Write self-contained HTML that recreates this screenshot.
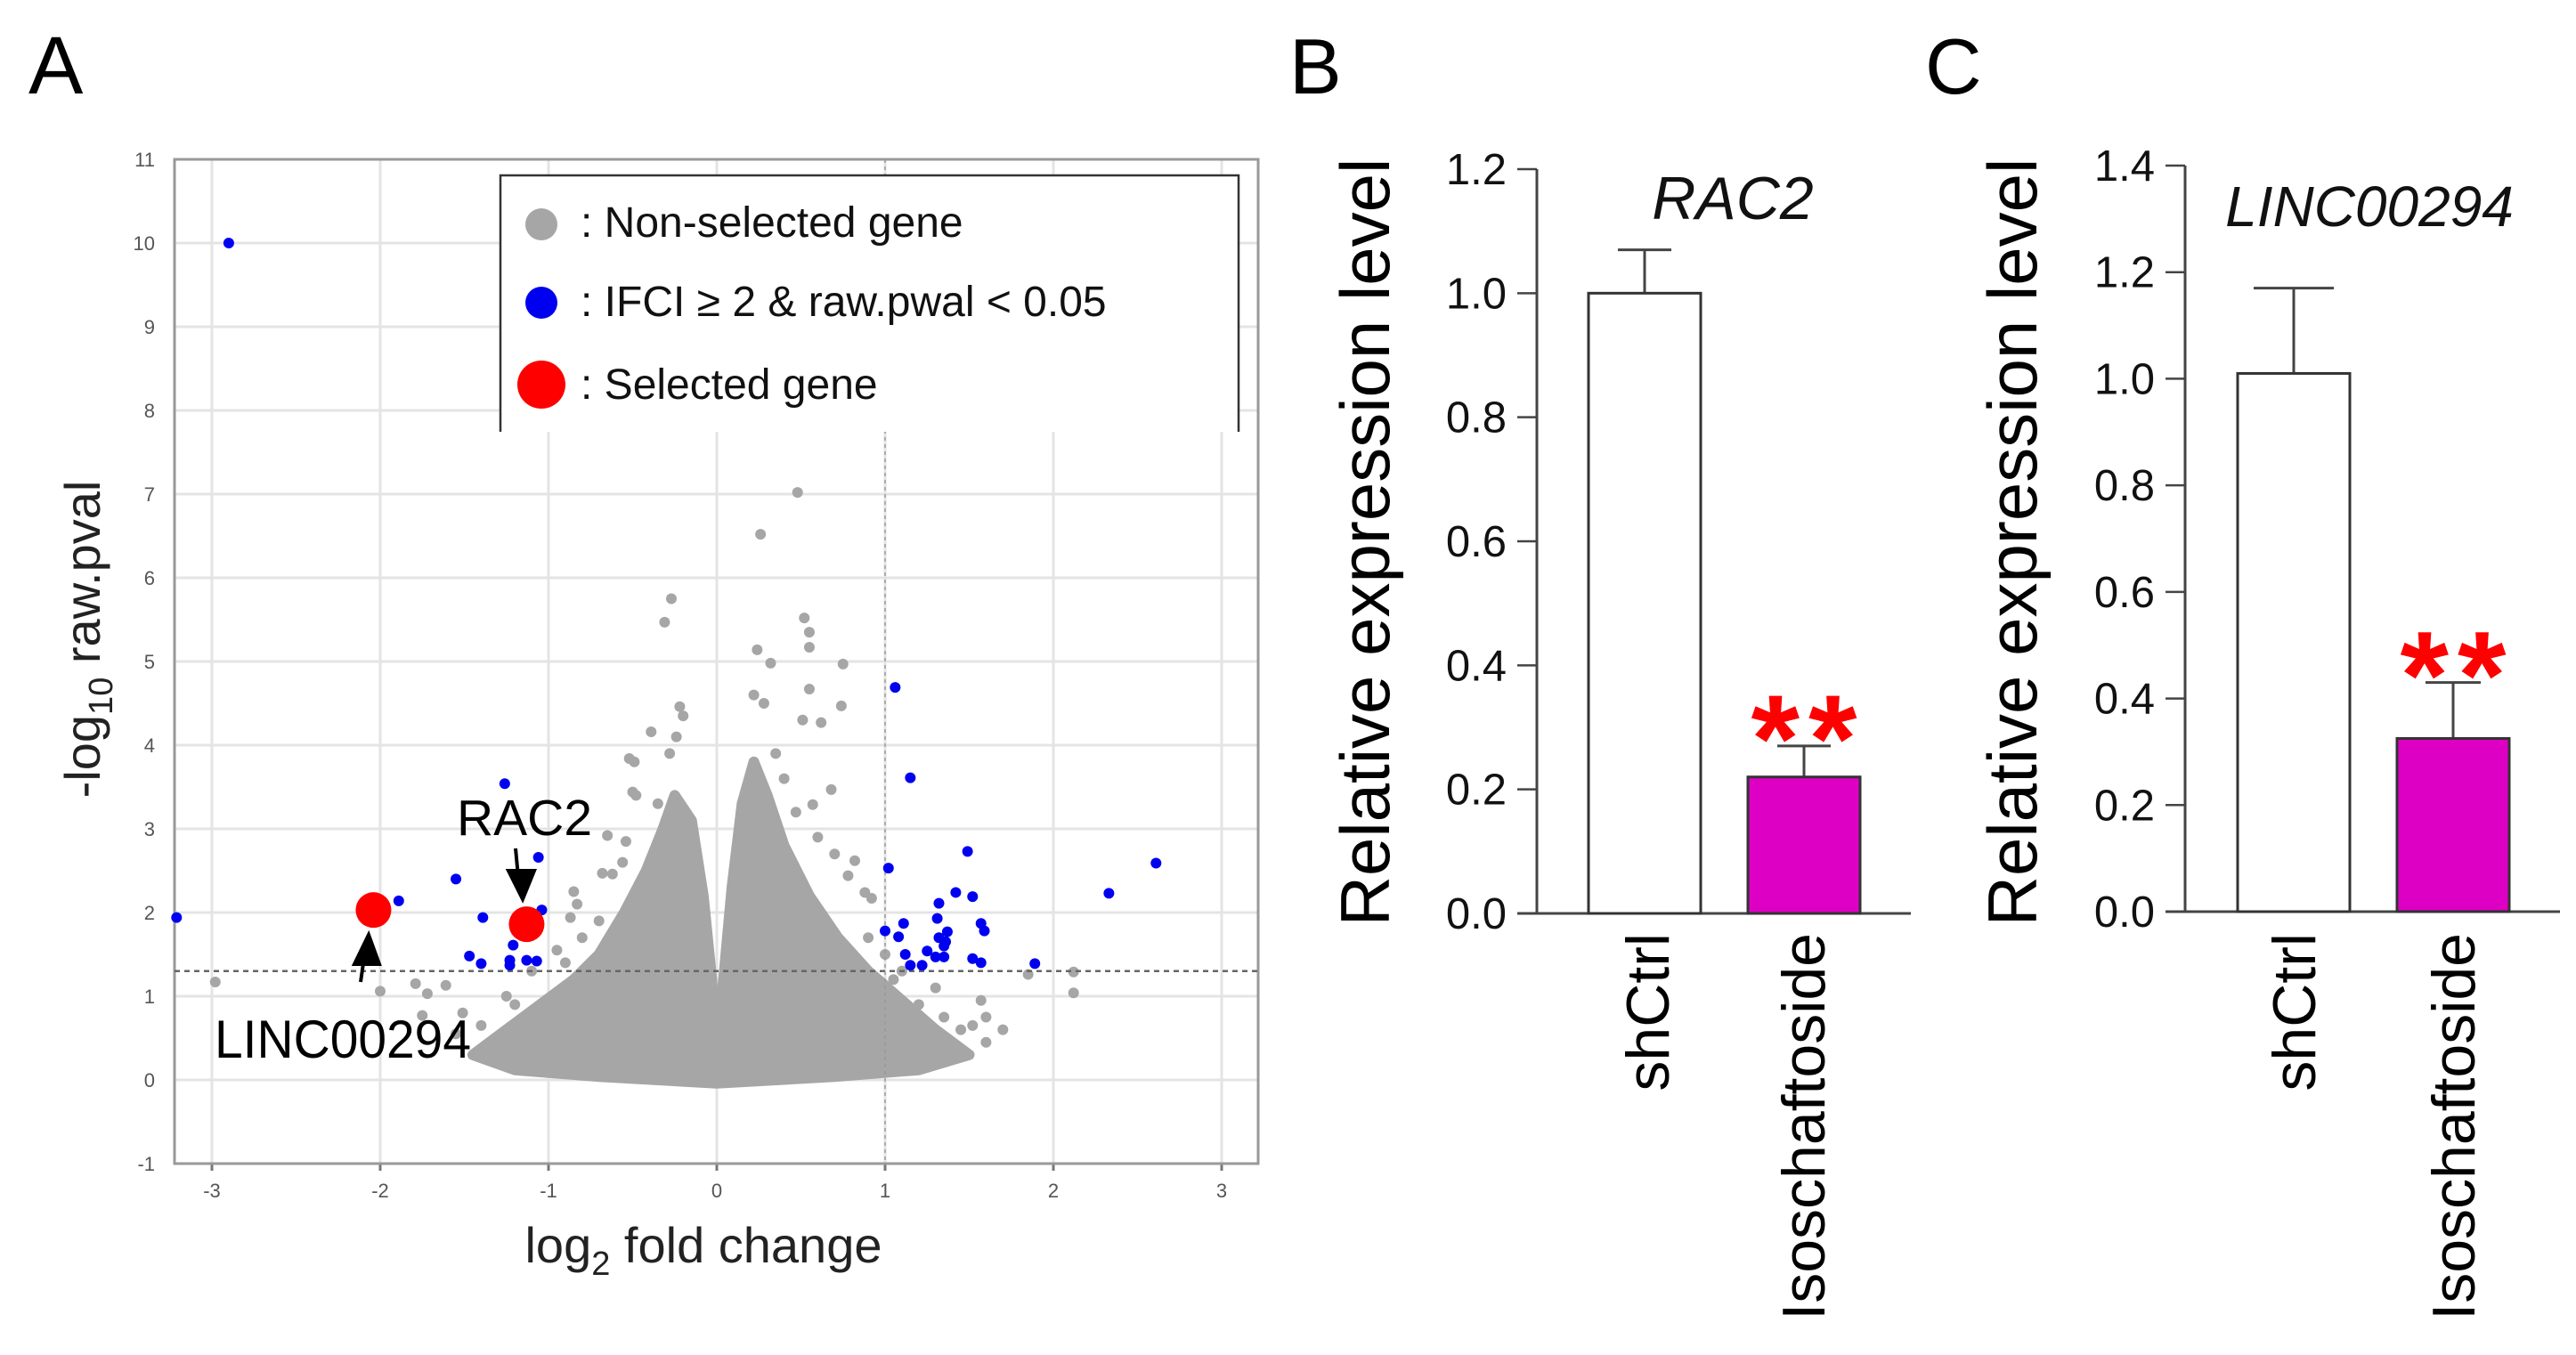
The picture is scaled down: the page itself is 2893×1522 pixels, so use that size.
<!DOCTYPE html>
<html><head><meta charset="utf-8"><style>
html,body{margin:0;padding:0;background:#fff;}
svg{display:block;font-family:"Liberation Sans",Arial,sans-serif;}
</style></head><body>
<svg id="fig" width="2893" height="1522" viewBox="0 0 2893 1522" xmlns="http://www.w3.org/2000/svg">
<rect width="2893" height="1522" fill="#fff"/>
<g id="panelA"></g>
<g id="panelB"></g>
<g id="panelC"></g>
</svg>
<script>
// ---------- Volcano data ----------
const xTicks = [-3,-2,-1,0,1,2,3];
const yTicks = [-1,0,1,2,3,4,5,6,7,8,9,10,11];
const blueX = [-2.9,-3.21,-1.89,-1.55,-1.26,-1.06,-1.04,-1.39,-1.21,-1.47,-1.40,-1.23,-1.23,-1.13,-1.07,
  1.06,1.15,1.49,2.61,2.33,1.02,1.42,1.52,1.32,1.31,1.11,1.0,1.08,1.57,1.59,1.37,1.32,1.36,1.35,1.25,1.30,1.35,1.12,1.15,1.22,1.52,1.57,1.89];
const blueY = [10.0,1.94,2.14,2.40,3.54,2.66,2.03,1.94,1.61,1.48,1.39,1.43,1.37,1.43,1.42,
  4.69,3.61,2.73,2.59,2.23,2.53,2.24,2.19,2.11,1.93,1.87,1.78,1.71,1.87,1.78,1.77,1.70,1.65,1.60,1.54,1.47,1.47,1.50,1.37,1.37,1.45,1.40,1.39];
const grayX = [0.48,0.26,-0.27,-0.31,0.52,0.55,0.55,0.75,0.24,0.32,0.55,0.74,-0.22,-0.2,-0.39,0.51,0.62,-0.52,-0.50,0.68,0.57,0.47,-0.65,-0.68,-0.62,0.82,0.78,0.88,0.92,-0.83,
  2.12,2.12,1.85,1.6,1.52,1.57,-2.98,-2.0,-1.79,-1.72,-1.61,-0.85,-0.87,-0.54,-0.56,-0.48,-0.49,-1.35,-1.51,-1.75,0.22,0.28,-0.24,-0.28,0.35,0.4,-0.35,0.6,0.7,-0.7,
  -1.25,-1.1,-0.95,-1.4,-1.55,-1.2,1.2,1.35,1.45,1.3,1.1,1.0,-0.8,-0.9,0.9,1.05,1.6,1.7,-1.3,-1.0];
const grayY = [7.02,6.52,5.75,5.47,5.52,5.35,5.17,4.97,5.14,4.98,4.67,4.47,4.46,4.35,4.16,4.3,4.27,3.84,3.44,3.47,3.29,3.2,2.92,2.47,2.46,2.62,2.44,2.24,2.17,2.1,
  1.29,1.04,1.26,0.75,0.65,0.95,1.17,1.06,1.15,1.03,1.13,2.25,1.94,2.85,2.6,3.4,3.8,0.40,0.8,0.77,4.6,4.5,4.1,3.9,3.9,3.6,3.3,2.9,2.7,1.9,
  1.0,1.3,1.55,0.65,0.55,0.9,0.9,0.75,0.6,1.1,1.3,1.5,1.7,1.4,1.7,1.2,0.45,0.6,0.3,0.45];
// envelope of the dense point cloud (data units)
const cloudX = [-1.45,-1.25,-1.05,-0.85,-0.7,-0.55,-0.42,-0.32,-0.25,-0.15,-0.08,-0.03,0,0.04,0.09,0.15,0.22,0.3,0.4,0.55,0.72,0.9,1.1,1.3,1.5,1.2,0.7,0,-0.7,-1.2];
const cloudY = [0.3,0.6,0.9,1.2,1.5,2.0,2.5,3.0,3.4,3.1,2.2,1.2,0.35,1.2,2.3,3.3,3.8,3.4,2.8,2.2,1.7,1.3,0.95,0.6,0.3,0.12,0.04,-0.04,0.04,0.12];
const redX = [-2.04,-1.13];
const redY = [2.03,1.86];
const pThreshold = 1.3;
const fcThreshold = 1;

// ---------- Bar data ----------
const barCats = ["shCtrl","Isoschaftoside"];
const rac2Vals = [1.0,0.22];
const rac2Err = [0.07,0.05];
const rac2Ticks = ["0.0","0.2","0.4","0.6","0.8","1.0","1.2"];
const lincVals = [1.01,0.325];
const lincErr = [0.16,0.105];
const lincTicks = ["0.0","0.2","0.4","0.6","0.8","1.0","1.2","1.4"];

const NS="http://www.w3.org/2000/svg";
function mk(parent,tag,attrs,text){const e=document.createElementNS(NS,tag);for(const k in attrs)e.setAttribute(k,attrs[k]);if(text!==undefined)e.textContent=text;parent.appendChild(e);return e;}

// ---------- Panel A ----------
(function(){
const g=document.getElementById('panelA');
const X0=805,XS=189,Y0=1213,YS=94;
const sx=v=>X0+v*XS, sy=v=>Y0-v*YS;
const L=196,R=1413,T=sy(11),B=sy(-1);
let t=mk(g,'text',{x:32,y:105,'font-size':92,fill:'#000'},'A');

xTicks.forEach(v=>{let l=mk(g,'line',{x1:sx(v),x2:sx(v),y1:T,y2:B,stroke:'#e4e4e4','stroke-width':3});

let tk=mk(g,'line',{x1:sx(v),x2:sx(v),y1:B,y2:B+8,stroke:'#777','stroke-width':3});

let tl=mk(g,'text',{x:sx(v),y:B+38,'font-size':22,fill:'#555','text-anchor':'middle'},String(v));
});
yTicks.forEach(v=>{let l=mk(g,'line',{x1:L,x2:R,y1:sy(v),y2:sy(v),stroke:'#e4e4e4','stroke-width':3});

let tl=mk(g,'text',{x:174,y:sy(v)+8,'font-size':22,fill:'#555','text-anchor':'end'},String(v));
});
let fr=mk(g,'rect',{x:L,y:T,width:R-L,height:B-T,fill:'none',stroke:'#999','stroke-width':3});

// cloud
let d='';cloudX.forEach((x,i)=>{d+=(i?'L':'M')+sx(x)+' '+sy(cloudY[i])+' ';});
let cl=mk(g,'path',{d:d+'Z',fill:'#a6a6a6',stroke:'#a6a6a6','stroke-width':12,'stroke-linejoin':'round'});

grayX.forEach((x,i)=>{let c=mk(g,'circle',{cx:sx(x),cy:sy(grayY[i]),r:6,fill:'#a6a6a6'});
});
// threshold lines
let h=mk(g,'line',{x1:L,x2:R,y1:sy(pThreshold),y2:sy(pThreshold),stroke:'#666','stroke-width':2.5,'stroke-dasharray':'6 5'});

let vl=mk(g,'line',{x1:sx(fcThreshold),x2:sx(fcThreshold),y1:T,y2:B,stroke:'#999','stroke-width':1.5,'stroke-dasharray':'4 4'});

blueX.forEach((x,i)=>{let c=mk(g,'circle',{cx:sx(x),cy:sy(blueY[i]),r:6,fill:'#0000f0'});
});
redX.forEach((x,i)=>{let c=mk(g,'circle',{cx:sx(x),cy:sy(redY[i]),r:20,fill:'#ff0000'});
});
// legend
let lg=mk(g,'path',{d:'M562 485 L562 197 L1391 197 L1391 485',fill:'#fff',stroke:'#333','stroke-width':2.5});

const leg=[['#a6a6a6',18,252,': Non-selected gene',266],['#0000f0',18,340,': IFCI \u2265 2 & raw.pwal <  0.05',355],['#ff0000',27,432,': Selected gene',448]];
leg.forEach(e=>{let c=mk(g,'circle',{cx:608,cy:e[2],r:e[1],fill:e[0]});

let tx=mk(g,'text',{x:652,y:e[4],'font-size':48,fill:'#111'},e[3]);
});
// annotations
let a1=mk(g,'text',{x:513,y:938,'font-size':57,fill:'#000'},'RAC2');

let a2=mk(g,'text',{x:241,y:1188,'font-size':60,fill:'#000',textLength:288,lengthAdjust:'spacingAndGlyphs'},'LINC00294');

let ar1=mk(g,'path',{d:'M579 953 L582 985 M571 978 L600 978 L587 1010 Z',stroke:'#000','stroke-width':4,fill:'#000'});

let ar2=mk(g,'path',{d:'M405 1103 L409 1075 M398 1083 L426 1083 L414 1050 Z',stroke:'#000','stroke-width':4,fill:'#000'});

// axis titles
let xt=mk(g,'text',{x:790,y:1418,'font-size':56,fill:'#222','text-anchor':'middle'});

xt.innerHTML='log<tspan font-size="38" dy="14">2</tspan><tspan dy="-14"> fold change</tspan>';
let yt=mk(g,'text',{x:0,y:0,'font-size':56,fill:'#222','text-anchor':'middle',transform:'translate(112 718) rotate(-90)'});

yt.innerHTML='-log<tspan font-size="38" dy="14">10</tspan><tspan dy="-14"> raw.pval</tspan>';
})();

// ---------- Bar panels ----------
function barPanel(gid,cfg){
const g=document.getElementById(gid);
const sy=v=>cfg.y0-v*cfg.ys;
let lt=mk(g,'text',{x:cfg.letterX,y:105,'font-size':88,fill:'#000'},cfg.letter);

let yl=mk(g,'text',{x:0,y:0,'font-size':78,fill:'#000','text-anchor':'middle',transform:`translate(${cfg.ylabX} 609) rotate(-90)`},'Relative expression level');

cfg.ticks.forEach(s=>{const v=parseFloat(s);
let tk=mk(g,'line',{x1:cfg.ax-22,x2:cfg.ax,y1:sy(v),y2:sy(v),stroke:'#444','stroke-width':2.5});

let tl=mk(g,'text',{x:cfg.ax-34,y:sy(v)+17,'font-size':49,fill:'#111','text-anchor':'end'},s);
});
let ya=mk(g,'line',{x1:cfg.ax,x2:cfg.ax,y1:sy(parseFloat(cfg.ticks[cfg.ticks.length-1])),y2:cfg.y0,stroke:'#444','stroke-width':3});

let xa=mk(g,'line',{x1:cfg.ax-22,x2:cfg.axR,y1:cfg.y0,y2:cfg.y0,stroke:'#444','stroke-width':3});

cfg.vals.forEach((v,i)=>{const x=cfg.barX[i],w=cfg.bw,cx=x+w/2;
let e=mk(g,'path',{d:`M${cx} ${sy(v)} L${cx} ${sy(v+cfg.err[i])} M${cx-cfg.cap[i]} ${sy(v+cfg.err[i])} L${cx+cfg.cap[i]} ${sy(v+cfg.err[i])}`,stroke:'#444','stroke-width':3,fill:'none'});

let r=mk(g,'rect',{x:x,y:sy(v),width:w,height:cfg.y0-sy(v),fill:i?'#dd00c4':'#fff',stroke:'#333','stroke-width':3});

let lb=mk(g,'text',{x:0,y:0,'font-size':68,fill:'#000','text-anchor':'end',transform:`translate(${cfg.labX[i]} 1048) rotate(-90)`},barCats[i]);
});
let ti=mk(g,'text',{x:cfg.titleX,y:cfg.titleY,'font-size':cfg.titleSize,'font-style':'italic',fill:'#111','text-anchor':'middle'},cfg.title);

const sx2=cfg.barX[1]+cfg.bw/2;
let st=mk(g,'text',{x:sx2+5,y:sy(cfg.vals[1]+cfg.err[1])+40,'font-size':140,'font-weight':'bold',fill:'#ff0000','text-anchor':'middle','letter-spacing':10},'**');

}
barPanel('panelB',{letter:'B',letterX:1448,ylabX:1560,ax:1726,axR:2146,y0:1026,ys:(1026-190)/1.2,ticks:rac2Ticks,vals:rac2Vals,err:rac2Err,
 barX:[1784,1963],bw:126,cap:[30,30],labX:[1874,2049],title:'RAC2',titleX:1946,titleY:246,titleSize:68});
barPanel('panelC',{letter:'C',letterX:2162,ylabX:2287,ax:2454,axR:2875,y0:1024,ys:(1024-186)/1.4,ticks:lincTicks,vals:lincVals,err:lincErr,
 barX:[2513,2692],bw:126,cap:[45,31],labX:[2600,2779],title:'LINC00294',titleX:2661,titleY:254,titleSize:64});
</script>
</body></html>
